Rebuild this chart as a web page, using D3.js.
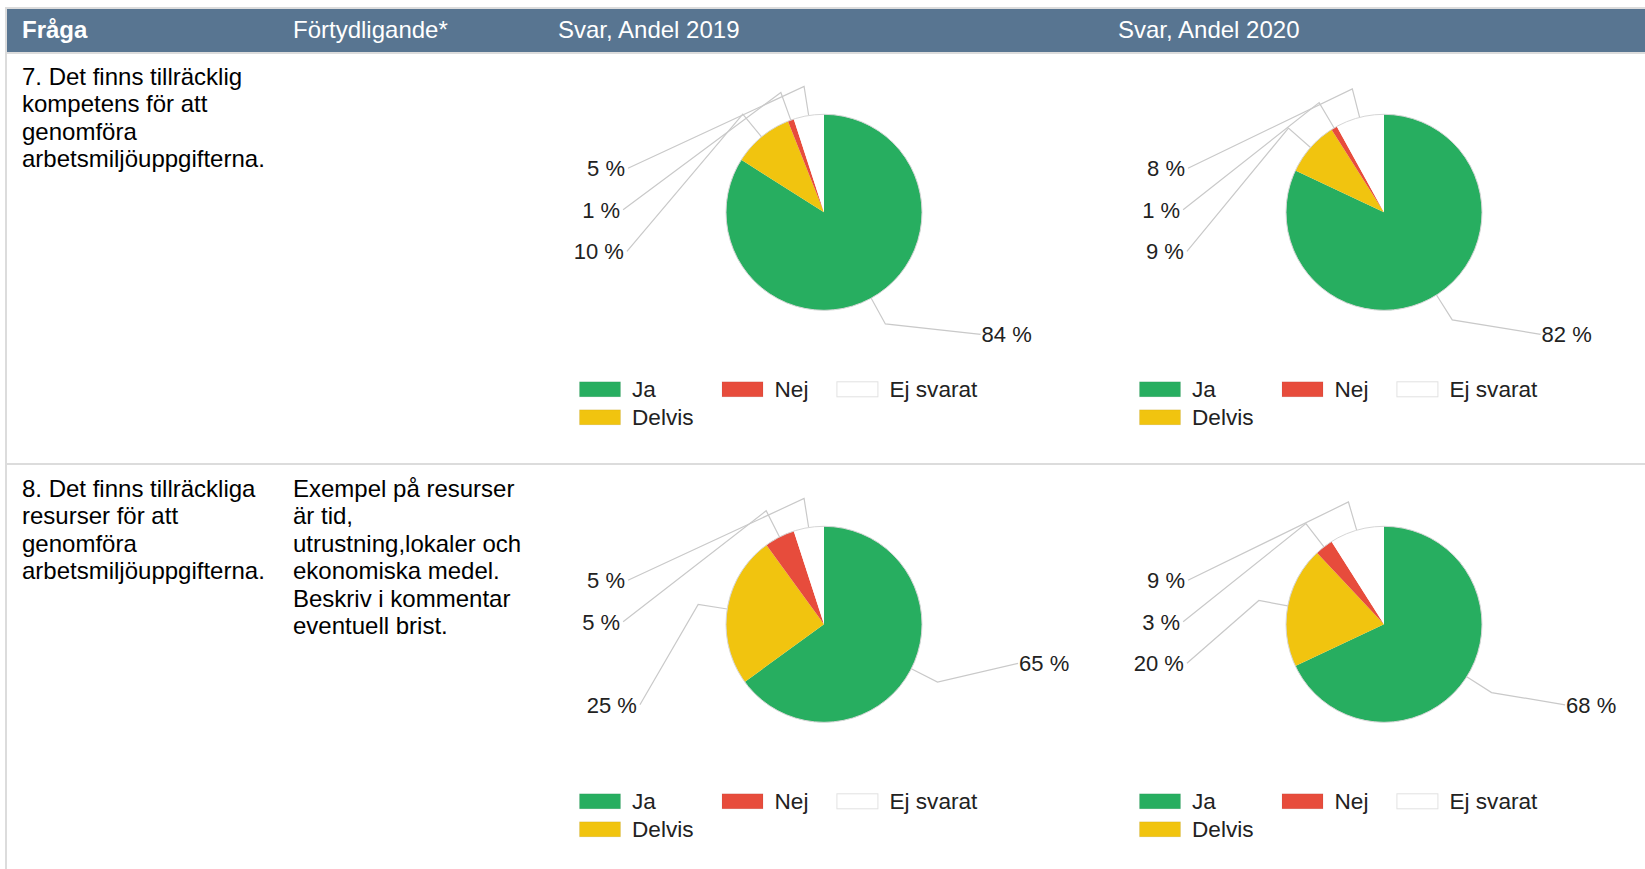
<!DOCTYPE html>
<html><head><meta charset="utf-8">
<script src="https://cdn.jsdelivr.net/npm/d3@7/dist/d3.min.js"></script>
<style>
body{margin:0;background:#fff;}
svg{display:block;font-family:"Liberation Sans",Arial,sans-serif;}
</style>
</head><body>
<svg id="c" width="1645" height="869"></svg>
<script>
// ---------- data ----------
const headers = ["Fråga", "Förtydligande*", "Svar, Andel 2019", "Svar, Andel 2020"];
const categories = ["Ja", "Delvis", "Nej", "Ej svarat"];
const legendOrder = ["Ja", "Nej", "Ej svarat", "Delvis"];
const colors = ["#27ae60", "#f1c40f", "#e74c3c", "#ffffff"];

const q7Question = ["7. Det finns tillräcklig", "kompetens för att", "genomföra", "arbetsmiljöuppgifterna."];
const q7Note = [];
const q7Values2019 = [84, 10, 1, 5];
const q7Values2020 = [82, 9, 1, 8];

const q8Question = ["8. Det finns tillräckliga", "resurser för att", "genomföra", "arbetsmiljöuppgifterna."];
const q8Note = ["Exempel på resurser", "är tid,", "utrustning,lokaler och", "ekonomiska medel.", "Beskriv i kommentar", "eventuell brist."];
const q8Values2019 = [65, 25, 5, 5];
const q8Values2020 = [68, 20, 3, 9];

// ---------- layout ----------
const W = 1645, H = 869;
const colX = [22, 293, 558, 1118];
const rowTops = [54, 466];
const color = d3.scaleOrdinal(categories, colors);
const svg = d3.select("#c");

svg.append("rect").attr("width", W).attr("height", H).attr("fill", "#fff");
// borders
svg.append("rect").attr("x", 5).attr("y", 7).attr("width", W - 5).attr("height", 2).attr("fill", "#dcdcdc");
svg.append("rect").attr("x", 5).attr("y", 7).attr("width", 2).attr("height", H - 7).attr("fill", "#dcdcdc");
svg.append("rect").attr("x", 7).attr("y", 9).attr("width", W - 7).attr("height", 43).attr("fill", "#587591");
svg.append("rect").attr("x", 7).attr("y", 52).attr("width", W - 7).attr("height", 2).attr("fill", "#dcdcdc");
svg.append("rect").attr("x", 7).attr("y", 463).attr("width", W - 7).attr("height", 2).attr("fill", "#dcdcdc");

// header
svg.selectAll("text.hdr").data(headers).join("text")
  .attr("class", "hdr")
  .attr("x", (d, i) => colX[i])
  .attr("y", 38)
  .attr("fill", "#fff")
  .attr("font-size", 24)
  .attr("font-weight", (d, i) => i === 0 ? "bold" : "normal")
  .text(d => d);

function textBlock(lines, x, y) {
  const t = svg.append("text").attr("x", x).attr("y", y)
    .attr("font-size", 24).attr("fill", "#000");
  t.selectAll("tspan").data(lines).join("tspan")
    .attr("x", x).attr("dy", (d, i) => i === 0 ? 0 : 27.4).text(d => d);
}

function drawPie(cx, cy, values) {
  const r = 98;
  const data = categories.map((c, i) => ({cat: c, value: values[i]}));
  const arcs = d3.pie().sort(null).value(d => d.value)(data);
  const arc = d3.arc().innerRadius(0).outerRadius(r);
  const g = svg.append("g").attr("transform", `translate(${cx},${cy})`);

  // label layout: shared vertical slots for both sides
  const slotY = k => -0.449 * r + 0.4235 * r * k;
  const nSlots = 5;
  const R = 2.05 * r;
  const items = arcs.map(a => {
    const m = (a.startAngle + a.endAngle) / 2;
    return {
      a, m,
      side: Math.sin(m) < 0 ? -1 : 1,
      edge: [Math.sin(m) * r, -Math.cos(m) * r],
      elbow: [Math.sin(m) * 1.3 * r, -Math.cos(m) * 1.3 * r]
    };
  });
  const taken = new Set();
  const maxOf = s => d3.max(items.filter(d => d.side === s), d => d.a.data.value) || 0;
  const sides = [-1, 1].sort((p, q) => maxOf(q) - maxOf(p));
  sides.forEach(side => {
    const its = items.filter(d => d.side === side).sort((p, q) => p.elbow[1] - q.elbow[1]);
    let prev = -1;
    its.forEach(it => {
      let best = -1, bd = Infinity;
      for (let k = prev + 1; k < nSlots; k++) {
        if (taken.has(k)) continue;
        const dd = Math.abs(slotY(k) - it.elbow[1]);
        if (dd < bd) { bd = dd; best = k; }
      }
      if (best < 0) best = Math.min(nSlots - 1, prev + 1);
      taken.add(best);
      prev = best;
      it.ly = slotY(best);
      it.lx = side * Math.sqrt(Math.max(0, R * R - it.ly * it.ly));
    });
  });

  // leader lines
  const line = d3.line();
  g.selectAll("path.lead").data(items).join("path")
    .attr("class", "lead")
    .attr("d", d => line([d.edge, d.elbow, [d.side < 0 ? d.lx : d.lx - 3, d.ly]]))
    .attr("fill", "none").attr("stroke", "#c9c9c9").attr("stroke-width", 1.2);

  g.selectAll("path.slice").data(arcs).join("path")
    .attr("class", "slice").attr("d", arc).attr("fill", d => color(d.data.cat));
  g.append("circle").attr("r", r).attr("fill", "none").attr("stroke", "#d6d6d6").attr("stroke-width", 1);

  g.selectAll("text.lbl").data(items).join("text")
    .attr("class", "lbl")
    .attr("x", d => d.side < 0 ? d.lx - 3 : d.lx - 2)
    .attr("y", d => d.ly + 8)
    .attr("text-anchor", d => d.side < 0 ? "end" : "start")
    .attr("font-size", 22).attr("fill", "#222")
    .text(d => `${d.a.data.value} %`);

  // legend
  const fs = 22.6;
  const lg = g.append("g").attr("transform", `translate(${-245},${169})`);
  const perRow = 3, swW = 42, swH = 16, gapTxt = 11, colGap = 28, rowH = 28;
  const tmp = lg.append("text").attr("font-size", fs);
  const widths = legendOrder.map(c => { tmp.text(c); return tmp.node().getComputedTextLength(); });
  tmp.remove();
  const colW = [];
  legendOrder.forEach((c, i) => {
    const col = i % perRow;
    colW[col] = Math.max(colW[col] || 0, swW + gapTxt + widths[i]);
  });
  const colStart = [0];
  for (let j = 1; j < perRow; j++) colStart[j] = colStart[j - 1] + colW[j - 1] + colGap;
  const items2 = lg.selectAll("g.li").data(legendOrder).join("g")
    .attr("class", "li")
    .attr("transform", (d, i) => `translate(${colStart[i % perRow]},${Math.floor(i / perRow) * rowH})`);
  items2.append("rect").attr("x", 0.5).attr("y", 0.5).attr("width", swW - 1).attr("height", swH - 1)
    .attr("fill", d => color(d))
    .attr("stroke", d => d === "Ej svarat" ? "#e2e2e2" : "rgba(0,0,0,0.06)");
  items2.append("text").attr("x", swW + gapTxt).attr("y", swH / 2 + 8)
    .attr("font-size", fs).attr("fill", "#222").text(d => d);
}

const rows = [
  {q: q7Question, note: q7Note, v: [q7Values2019, q7Values2020]},
  {q: q8Question, note: q8Note, v: [q8Values2019, q8Values2020]}
];
rows.forEach((row, ri) => {
  const top = rowTops[ri];
  textBlock(row.q, colX[0], top + 31);
  if (row.note.length) textBlock(row.note, colX[1], top + 31);
  row.v.forEach((vals, ci) => drawPie(colX[2 + ci] + 266, top + 158.3, vals));
});
</script>
</body></html>
